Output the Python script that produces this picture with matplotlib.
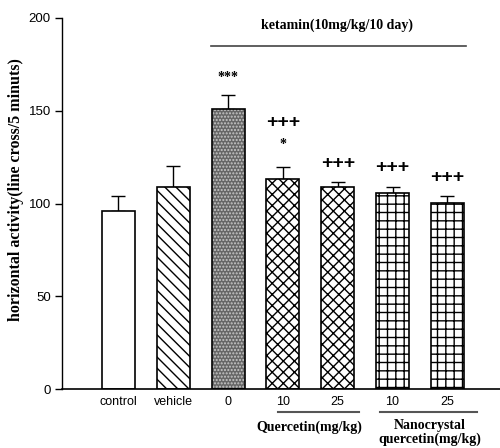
import matplotlib.pyplot as plt
import numpy as np

# values
labels = ['control', 'vehicle', '0', '10', '25', '10', '25']
means = [96, 109, 151, 113.5, 109, 105.5, 100.5]
errs = [8, 11, 7.5, 6, 2.5, 3.5, 3.5]
hatches = ['', '\\\\\\', '', 'xxx', 'xxx', '++', '++']
plus_y = [None, None, None, 143.6, 121.4, 119.3, 114]
star_marks = [None, None, '***', '*', None, None, None]
star_y = [None, None, 168, 131.7, None, None, None]

serif = 'Liberation Serif'
sans = 'Liberation Sans'

fig = plt.figure(figsize=(5, 4.48), dpi=100)
ax = fig.add_axes([0.124, 0.131, 0.876, 0.829])

x = np.arange(1, 8)
for i in range(7):
    if i == 2:
        # dark dotted bar
        ax.bar(x[i], means[i], 0.6, color='#666666', edgecolor='#c8c8c8',
               hatch='.....', linewidth=0, zorder=2)
        ax.bar(x[i], means[i], 0.6, fill=False, edgecolor='black',
               linewidth=1.2, zorder=3)
    else:
        ax.bar(x[i], means[i], 0.6, color='white', edgecolor='black',
               hatch=hatches[i], linewidth=1.2, zorder=2)
ax.errorbar(x, means, yerr=[np.zeros(7), errs], fmt='none', ecolor='black',
            elinewidth=1, capsize=5, capthick=1, zorder=1)

for i in range(7):
    if star_marks[i]:
        ax.text(x[i], star_y[i], star_marks[i], ha='center', va='center',
                family=serif, fontsize=10, fontweight='bold')
    if plus_y[i]:
        ax.text(x[i], plus_y[i], '+++', ha='center', va='center',
                family=sans, fontsize=14, fontweight='bold')

# ketamin bracket
ax.plot([2.69, 7.34], [184.8, 184.8], color='#444444', lw=1.2)
ax.text(4.99, 196.3, 'ketamin(10mg/kg/10 day)', ha='center', va='center',
        family=serif, fontsize=10, fontweight='bold')

# group lines under the x axis
ax.plot([3.91, 5.39], [-12, -12], color='#555555', lw=1.5, clip_on=False)
ax.plot([5.77, 7.54], [-12, -12], color='#555555', lw=1.5, clip_on=False)
ax.text(4.48, -20.7, 'Quercetin(mg/kg)', ha='center', va='center',
        family=serif, fontsize=10, fontweight='bold')
ax.text(6.68, -23.3, 'Nanocrystal\nquercetin(mg/kg)', ha='center', va='center',
        family=serif, fontsize=10, fontweight='bold', linespacing=1.0)

ax.set_xlim(-0.03, 7.96)
ax.set_ylim(0, 200)
ax.set_yticks([0, 50, 100, 150, 200])
ax.set_xticks(x)
ax.set_xticklabels(labels, family=sans, fontsize=9)
ax.tick_params(axis='x', length=0, pad=5)
ax.tick_params(axis='y', length=5, width=1, pad=3)
for t in ax.get_yticklabels():
    t.set_family(sans)
    t.set_fontsize(9.5)
ax.spines['top'].set_visible(False)
ax.spines['right'].set_visible(False)
ax.spines['left'].set_linewidth(1)
ax.spines['bottom'].set_linewidth(1.2)

fig.text(0.032, 0.576, 'horizontal activity(line cross/5 minuts)', rotation=90,
         ha='center', va='center', family=serif, fontsize=11.5, fontweight='bold')

fig.savefig('out.png', dpi=100)
